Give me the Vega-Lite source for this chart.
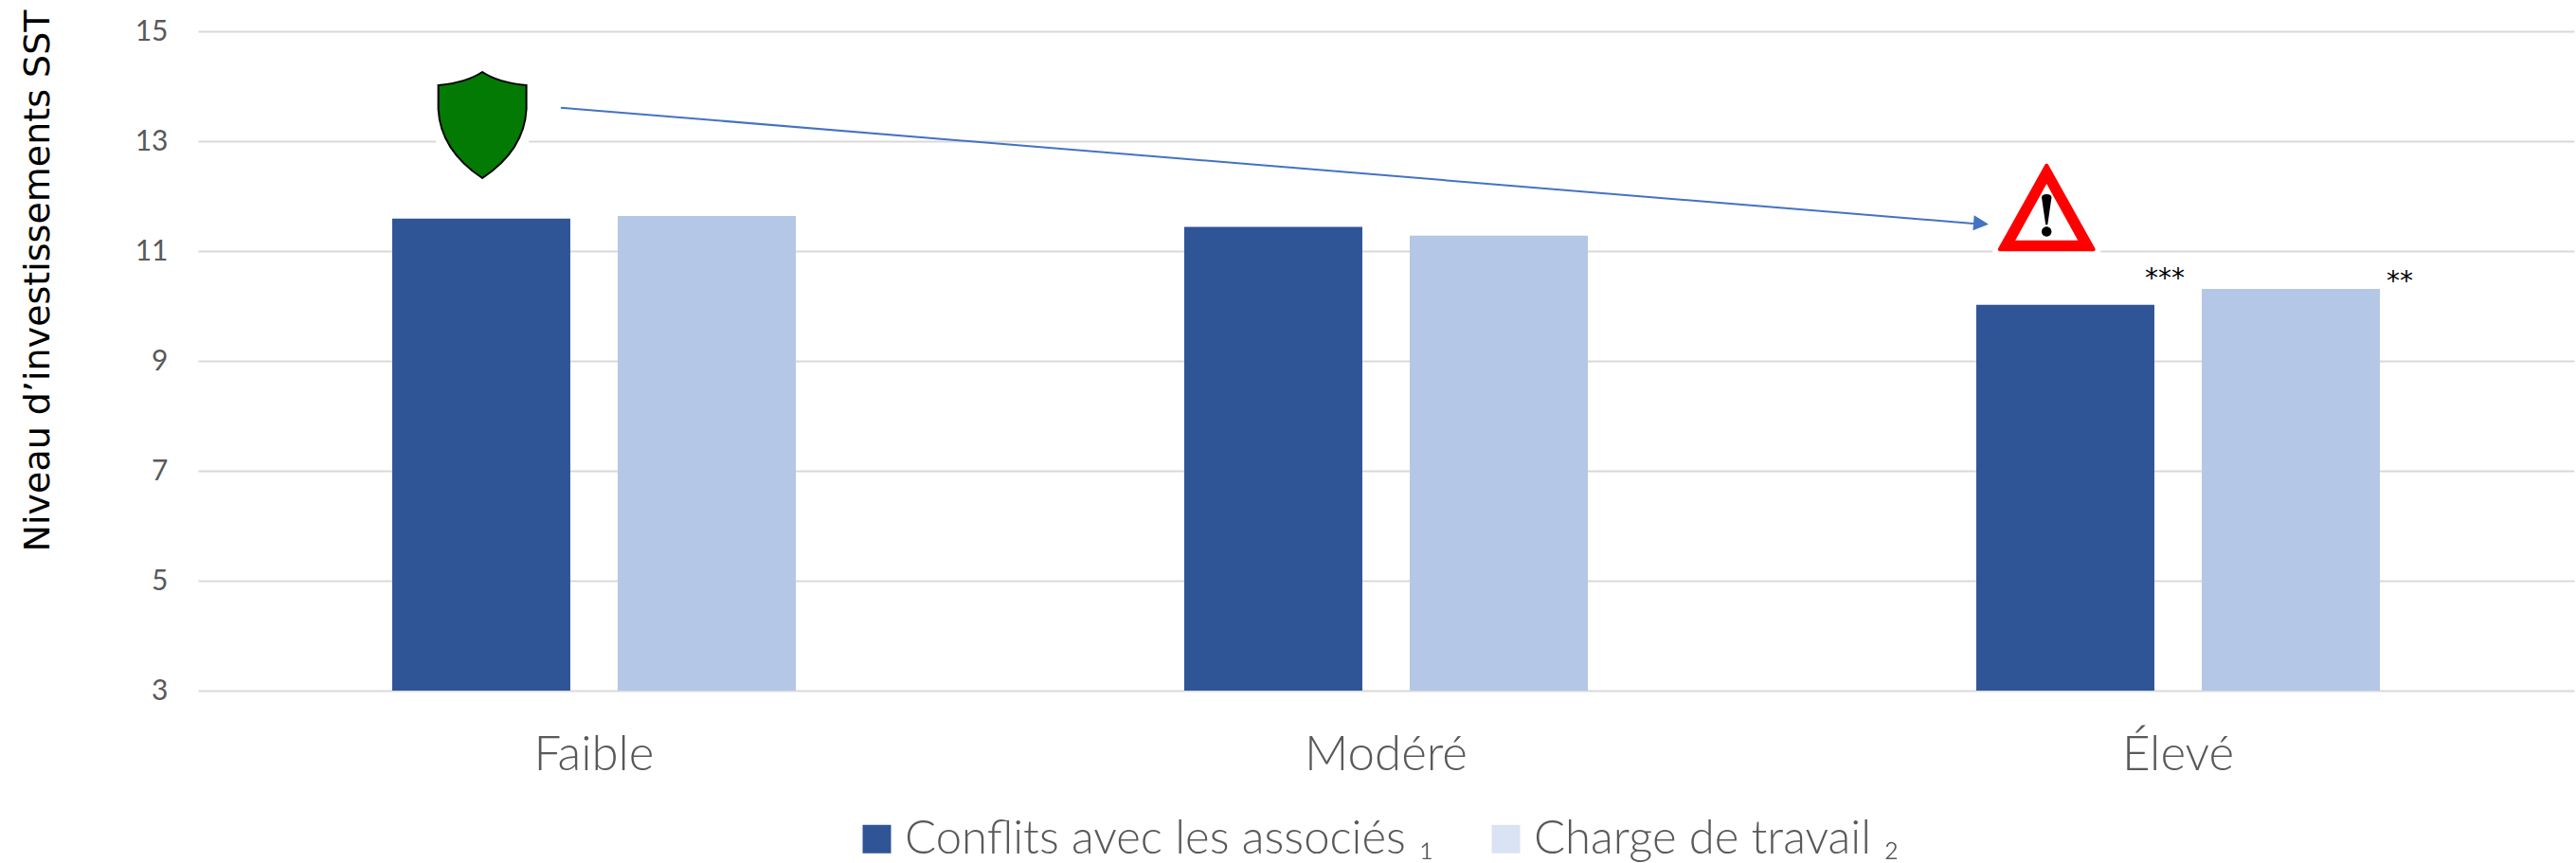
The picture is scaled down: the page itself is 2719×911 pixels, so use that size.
{
"$schema":"https://vega.github.io/schema/vega-lite/v6.json",
"width":2508,"height":696,
"autosize":{"type":"none"},
"padding":{"left":209,"top":33,"right":2,"bottom":182},
"background":"white",
"view":{"stroke":null},
"datasets":{
"barres":[
{"niveau":"Faible","serie":"Conflits avec les associés ₁","valeur":11.59},
{"niveau":"Faible","serie":"Charge de travail ₂","valeur":11.64},
{"niveau":"Modéré","serie":"Conflits avec les associés ₁","valeur":11.44},
{"niveau":"Modéré","serie":"Charge de travail ₂","valeur":11.28},
{"niveau":"Élevé","serie":"Conflits avec les associés ₁","valeur":10.02},
{"niveau":"Élevé","serie":"Charge de travail ₂","valeur":10.31}],
"fleche":[{"pos":0.4581,"val":13.609},{"pos":2.2416,"val":11.5}],
"pointe":[{"pos":2.2512,"val":11.5}],
"bouclier":[{"pos":0.359,"val":13.293}],
"alerte":[{"pos":2.334,"val":11.793}],
"etoiles":[{"pos":2.4833,"val":10.34,"txt":"***"},{"pos":2.78,"val":10.3,"txt":"**"}]
},
"layer":[
{
"data":{"name":"barres"},
"layer":[
{"mark":{"type":"bar","width":188},
"encoding":{
"x":{"field":"niveau","type":"nominal","sort":["Faible","Modéré","Élevé"],
"scale":{"paddingInner":0,"paddingOuter":0},
"axis":{"title":null,"labelAngle":0,"labelFontSize":51,"labelFont":"Lato","labelFontWeight":300,"labelColor":"#595959","labelPadding":43,"ticks":false,"domain":false,"grid":false}},
"xOffset":{"field":"serie","type":"nominal","sort":["Conflits avec les associés ₁","Charge de travail ₂"],
"scale":{"paddingInner":0.21,"paddingOuter":0.861}},
"y":{"field":"valeur","type":"quantitative","scale":{"domain":[3,15],"nice":false,"zero":false},
"axis":{"values":[3,5,7,9,11,13,15],"format":"d","title":"Niveau d’investissements SST","titleFont":"DejaVu Sans","titleFontSize":38,"titleFontWeight":"normal","titleColor":"#000000","titleX":-169,"titleY":263,"titleAngle":-90,"titleAlign":"center","titleBaseline":"middle","labelFont":"Lato","labelFontSize":30,"labelColor":"#595959","labelPadding":32,"ticks":false,"domain":false,"grid":true,"gridColor":"#D9D9D9","gridWidth":2}},
"y2":{"datum":3},
"fill":{"field":"serie","type":"nominal","sort":["Conflits avec les associés ₁","Charge de travail ₂"],"scale":{"range":["#2F5597","#B4C7E7"]},"legend":null}
}},
{"mark":{"type":"point","filled":true,"size":0},
"encoding":{
"x":{"field":"niveau","type":"nominal","sort":["Faible","Modéré","Élevé"]},
"y":{"field":"valeur","type":"quantitative"},
"color":{"field":"serie","type":"nominal","sort":["Conflits avec les associés ₁","Charge de travail ₂"],
"scale":{"range":["#2F5597","#DAE3F3"]},
"legend":{"title":null,"orient":"none","legendX":692,"legendY":828,"direction":"horizontal","columns":2,"columnPadding":51,"symbolType":"square","symbolSize":900,"symbolOpacity":1,"labelFont":"Lato","labelFontWeight":300,"labelFontSize":49,"labelColor":"#595959","labelOffset":5,"labelLimit":1000,"symbolStrokeWidth":0}}
}}
]},
{
"layer":[
{"data":{"name":"bouclier"},"mark":{"type":"point","shape":"square","filled":true,"size":9604,"color":"white","opacity":1},
"encoding":{"x":{"field":"pos","type":"quantitative","scale":{"domain":[0,3],"nice":false,"zero":false},"axis":null},"y":{"field":"val","type":"quantitative"}}},
{"data":{"name":"alerte"},"mark":{"type":"point","shape":"square","filled":true,"size":12996,"color":"white","opacity":1},
"encoding":{"x":{"field":"pos","type":"quantitative"},"y":{"field":"val","type":"quantitative"}}},
{"data":{"name":"bouclier"},"mark":{"type":"point","shape":"M0,-1 Q0.3,-0.8 0.83,-0.75 L0.83,-0.3 C0.8,0.3 0.45,0.7 0,1 C-0.45,0.7 -0.8,0.3 -0.83,-0.3 L-0.83,-0.75 Q-0.3,-0.8 0,-1Z","filled":true,"size":12544,"fill":"#037A03","stroke":"#000000","strokeWidth":2,"opacity":1},
"encoding":{"x":{"field":"pos","type":"quantitative"},"y":{"field":"val","type":"quantitative"}}},
{"data":{"name":"fleche"},"mark":{"type":"line","color":"#4472C4","strokeWidth":2},
"encoding":{"x":{"field":"pos","type":"quantitative"},"y":{"field":"val","type":"quantitative"}}},
{"data":{"name":"pointe"},"mark":{"type":"point","shape":"M-1,-1 L1,0 L-1,1Z","filled":true,"size":256,"angle":4.7,"color":"#4472C4","opacity":1},
"encoding":{"x":{"field":"pos","type":"quantitative"},"y":{"field":"val","type":"quantitative"}}},
{"data":{"name":"alerte"},"mark":{"type":"point","shape":"M0,-0.85 L0.95,0.85 L-0.95,0.85Z","filled":true,"size":10816,"fill":"#FF0000","stroke":"#FF0000","strokeWidth":4,"strokeJoin":"round","opacity":1},
"encoding":{"x":{"field":"pos","type":"quantitative"},"y":{"field":"val","type":"quantitative"}}},
{"data":{"name":"alerte"},"mark":{"type":"point","shape":"M0,-0.48 L0.635,0.67 L-0.635,0.67Z","filled":true,"size":10816,"fill":"#FFFFFF","opacity":1},
"encoding":{"x":{"field":"pos","type":"quantitative"},"y":{"field":"val","type":"quantitative"}}},
{"data":{"name":"alerte"},"mark":{"type":"point","shape":"M-0.1,-0.2 Q-0.1,-0.27 0,-0.27 Q0.1,-0.27 0.1,-0.2 L0.02,0.35 L-0.02,0.35Z M-0.1,0.49 A0.1,0.1 0 1,0 0.1,0.49 A0.1,0.1 0 1,0 -0.1,0.49Z","filled":true,"size":10816,"fill":"#000000","opacity":1},
"encoding":{"x":{"field":"pos","type":"quantitative"},"y":{"field":"val","type":"quantitative"}}},
{"data":{"name":"etoiles"},"mark":{"type":"text","font":"DejaVu Sans","fontSize":28,"color":"#000000","align":"center","baseline":"alphabetic"},
"encoding":{"x":{"field":"pos","type":"quantitative"},"y":{"field":"val","type":"quantitative"},"text":{"field":"txt","type":"nominal"}}}
]}
],
"resolve":{"scale":{"x":"independent"}}
}
